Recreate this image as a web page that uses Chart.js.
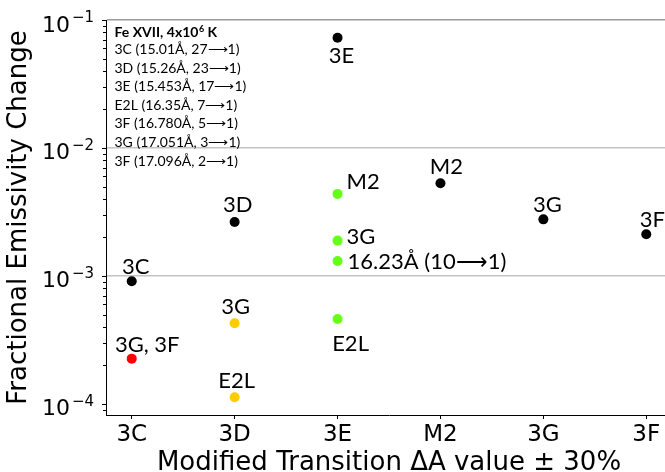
<!DOCTYPE html>
<html>
<head>
<meta charset="utf-8">
<script src="https://cdn.jsdelivr.net/npm/chart.js@4"></script>
<style>
  html, body { margin: 0; padding: 0; background: #ffffff; overflow: hidden; }
  #wrap { width: 665px; height: 472px; overflow: hidden; }
  canvas { display: block; }
</style>
</head>
<body>
<div id="wrap"><canvas id="chart" width="680" height="480"></canvas></div>
<script>
// Transitions whose A value is modified by ±30% (x axis)
const categories = ['3C', '3D', '3E', 'M2', '3G', '3F'];

// Line affected by its own modified A value
const blackValues = [9.1e-4, 2.64e-3, 7.27e-2, 5.30e-3, 2.77e-3, 2.12e-3];
const blackLabels = ['3C', '3D', '3E', 'M2', '3G', '3F'];

// Other lines responding to the 3E change
const greenCategory = '3E';
const greenValues = [4.38e-3, 1.89e-3, 1.31e-3, 4.61e-4];
const greenLabels = ['M2', '3G', '16.23Å (10⟶1)', 'E2L'];

// Other lines responding to the 3D change
const yellowCategory = '3D';
const yellowValues = [4.27e-4, 1.13e-4];
const yellowLabels = ['3G', 'E2L'];

// Other lines responding to the 3C change
const redCategory = '3C';
const redValues = [2.26e-4];
const redLabels = ['3G, 3F'];

// Decade exponents labelled on the y axis
const yDecades = [-1, -2, -3, -4];

// Inset notes
const infoTitle = ['Fe XVII, 4x10', '6', ' K'];
const infoLines = [
  '3C (15.01Å, 27⟶1)',
  '3D (15.26Å, 23⟶1)',
  '3E (15.453Å, 17⟶1)',
  'E2L (16.35Å, 7⟶1)',
  '3F (16.780Å, 5⟶1)',
  '3G (17.051Å, 3⟶1)',
  '3F (17.096Å, 2⟶1)'
];

const AXIS_FONT = '"DejaVu Sans", sans-serif';
const NOTE_FONT = 'Lato, "Open Sans", sans-serif';

function pointsAt(category, values) {
  const x = categories.indexOf(category);
  return values.map(v => ({ x: x, y: v }));
}

// label placement: [dx, dy] from the marker to the label's cap centre, plus alignment
const blackPlacement = [[4, -15, 'center'], [3, -17.5, 'center'], [4, 17.5, 'center'],
                        [6, -17, 'center'], [4, -15, 'center'], [6, -15, 'center']];
const greenPlacement = [[9, -13, 'left'], [9, -4.7, 'left'], [10, 0, 'left'], [13, 24, 'center']];
const yellowPlacement = [[1, -17, 'center'], [2, -17, 'center']];
const redPlacement = [[15.5, -15, 'center']];

const datasets = [
  { data: blackValues.map((v, i) => ({ x: i, y: v })), color: '#000000', labels: blackLabels, placement: blackPlacement },
  { data: pointsAt(greenCategory, greenValues), color: '#66ff1a', labels: greenLabels, placement: greenPlacement },
  { data: pointsAt(yellowCategory, yellowValues), color: '#ffcc00', labels: yellowLabels, placement: yellowPlacement },
  { data: pointsAt(redCategory, redValues), color: '#ff0000', labels: redLabels, placement: redPlacement }
].map(d => ({
  data: d.data,
  backgroundColor: d.color,
  borderWidth: 0,
  pointRadius: 5,
  pointHoverRadius: 5,
  pointLabels: d.labels,
  labelPlacement: d.placement
}));

function isDecade(v) {
  const l = Math.log10(v);
  return Math.abs(l - Math.round(l)) < 1e-6;
}

// text next to each marker
const pointLabelPlugin = {
  id: 'pointLabelPlugin',
  afterDatasetsDraw(chart) {
    const ctx = chart.ctx;
    const size = 22;
    const capHalf = size * 0.72 / 2;
    ctx.save();
    ctx.font = size + 'px ' + NOTE_FONT;
    ctx.fillStyle = '#000000';
    ctx.textBaseline = 'alphabetic';
    chart.data.datasets.forEach((ds, i) => {
      const meta = chart.getDatasetMeta(i);
      meta.data.forEach((pt, j) => {
        const [dx, dy, align] = ds.labelPlacement[j];
        ctx.textAlign = align;
        ctx.fillText(ds.pointLabels[j], pt.x + dx, pt.y + dy + capHalf);
      });
    });
    ctx.restore();
  }
};

// log axis tick marks and 10^n labels
const logAxisPlugin = {
  id: 'logAxisPlugin',
  afterDraw(chart) {
    const ctx = chart.ctx;
    const ys = chart.scales.y;
    const left = chart.chartArea.left;
    ctx.save();
    ctx.strokeStyle = '#000000';
    ctx.lineWidth = 1;
    ys.ticks.forEach(t => {
      const v = t.value;
      if (v < ys.min - 1e-12 || v > ys.max + 1e-12) return;
      const mant = v / Math.pow(10, Math.floor(Math.log10(v) + 1e-9));
      if (Math.abs(mant - Math.round(mant)) > 1e-6) return;
      const y = Math.round(ys.getPixelForValue(v)) + 0.5;
      const len = isDecade(v) ? 4 : 3;
      ctx.beginPath();
      ctx.moveTo(left - len, y);
      ctx.lineTo(left, y);
      ctx.stroke();
    });
    ctx.fillStyle = '#000000';
    ctx.textBaseline = 'alphabetic';
    yDecades.forEach(e => {
      const y = ys.getPixelForValue(Math.pow(10, e));
      const sup = '\u2212' + Math.abs(e);
      ctx.font = '15px ' + AXIS_FONT;
      ctx.textAlign = 'right';
      const supRight = 94;
      ctx.fillText(sup, supRight, y + 2);
      const supW = ctx.measureText(sup).width;
      ctx.font = '22px ' + AXIS_FONT;
      ctx.fillText('10', supRight - supW - 2, y + 11.5);
    });
    ctx.restore();
  }
};

// inset notes in the upper left of the plot
const notesPlugin = {
  id: 'notesPlugin',
  afterDraw(chart) {
    const ctx = chart.ctx;
    const x0 = chart.chartArea.left + 8.5;
    ctx.save();
    ctx.fillStyle = '#000000';
    ctx.textAlign = 'left';
    ctx.textBaseline = 'alphabetic';
    let x = x0;
    ctx.font = 'bold 14px ' + NOTE_FONT;
    ctx.fillText(infoTitle[0], x, 37);
    x += ctx.measureText(infoTitle[0]).width + 0.5;
    ctx.font = 'bold 9px ' + NOTE_FONT;
    ctx.fillText(infoTitle[1], x, 32);
    x += ctx.measureText(infoTitle[1]).width;
    ctx.font = 'bold 14px ' + NOTE_FONT;
    ctx.fillText(infoTitle[2], x, 37);
    ctx.font = '14px ' + NOTE_FONT;
    infoLines.forEach((line, i) => {
      ctx.fillText(line, x0, 54 + i * 18.6);
    });
    ctx.restore();
  }
};

new Chart(document.getElementById('chart'), {
  type: 'scatter',
  data: { datasets: datasets },
  options: {
    responsive: false,
    animation: false,
    events: [],
    layout: { padding: { top: 20, right: 8, bottom: 0, left: 0 } },
    plugins: {
      legend: { display: false },
      tooltip: { enabled: false }
    },
    scales: {
      x: {
        type: 'linear',
        min: -0.25,
        max: 5.25,
        afterBuildTicks: s => { s.ticks = categories.map((c, i) => ({ value: i })); },
        afterFit: s => { s.height = 65; },
        ticks: {
          autoSkip: false,
          maxRotation: 0,
          padding: 2,
          color: '#000000',
          font: { family: AXIS_FONT, size: 23 },
          callback: v => categories[v]
        },
        grid: {
          drawOnChartArea: false,
          drawTicks: true,
          tickLength: 4,
          tickColor: '#000000',
          color: '#000000'
        },
        border: { display: true, color: '#000000', width: 1 },
        title: {
          display: true,
          text: 'Modified Transition ΔA value ± 30%',
          color: '#000000',
          font: { family: AXIS_FONT, size: 26 },
          padding: { top: 0, bottom: 1.5 }
        }
      },
      y: {
        type: 'logarithmic',
        min: 8.2e-5,
        max: 0.1,
        afterFit: s => { s.width = 106; },
        ticks: { display: false },
        grid: {
          drawTicks: false,
          lineWidth: 1.5,
          color: c => {
            const v = c.tick ? c.tick.value : null;
            if (v == null || !isDecade(v) || v < 5e-4) return 'rgba(0,0,0,0)';
            return v > 0.05 ? '#9a9a9a' : '#c4c4c4';
          }
        },
        border: { display: true, color: '#000000', width: 1 },
        title: {
          display: true,
          text: 'Fractional Emissivity Change',
          color: '#000000',
          font: { family: AXIS_FONT, size: 26 },
          padding: { top: 3.5, bottom: 0 }
        }
      }
    }
  },
  plugins: [pointLabelPlugin, logAxisPlugin, notesPlugin]
});
</script>
</body>
</html>
